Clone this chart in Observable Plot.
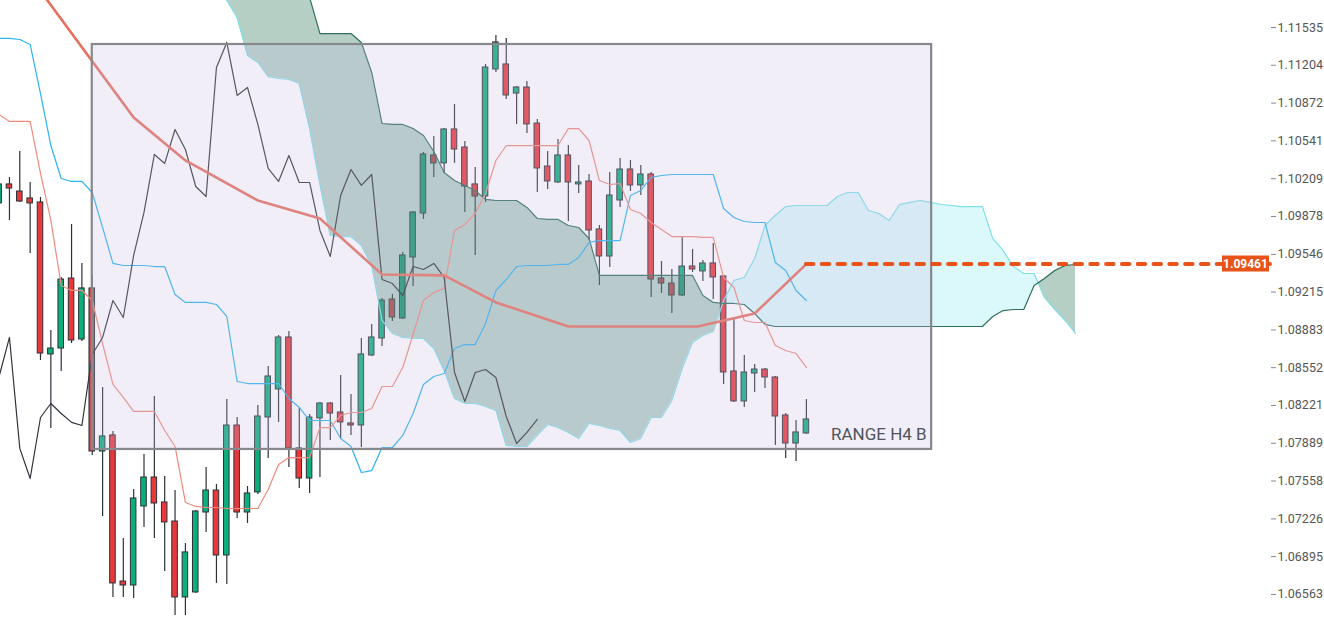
<!DOCTYPE html>
<html><head><meta charset="utf-8">
<script src="https://cdn.jsdelivr.net/npm/d3@7"></script>
<script src="https://cdn.jsdelivr.net/npm/@observablehq/plot@0.6"></script>
<style>
html,body{margin:0;padding:0;background:#fff;overflow:hidden;}
#chart svg{display:block}
</style></head><body><div id="chart"></div>
<script>
// ---- data (candles) ----
const opens = [1.09992,1.10159,1.10097,1.10036,1.10001,1.08668,1.08720,1.09334,1.08799,1.09247,
1.07817,1.07958,1.06677,1.06642,1.07335,1.07589,1.07370,1.07203,1.06537,1.06581,
1.07282,1.07475,1.06905,1.08045,1.07282,1.07458,1.08115,1.08361,1.08817,1.07844,
1.07580,1.08107,1.08238,1.08159,1.08063,1.08045,1.08659,1.08808,1.09150,1.08983,
1.09518,1.09904,1.10413,1.10343,1.10641,1.10483,1.10159,1.10053,1.11167,1.11211,
1.10956,1.11009,1.10693,1.10316,1.10176,1.10413,1.10159,1.10185,1.09764,1.09527,
1.10018,1.10290,1.10150,1.10246,1.09334,1.09290,1.09185,1.09439,1.09396,1.09466,
1.09352,1.08519,1.08256,1.08501,1.08536,1.08466,1.08133,1.07887,1.07975];
const highs = [1.10176,1.10220,1.10448,1.10176,1.10045,1.08878,1.09343,1.09808,1.09466,1.09361,
1.08378,1.07993,1.07054,1.07484,1.07791,1.08300,1.07598,1.07475,1.07010,1.07300,
1.07677,1.07528,1.08273,1.08115,1.07510,1.08221,1.08562,1.08834,1.08869,1.08194,
1.08142,1.08247,1.08247,1.08484,1.08317,1.08808,1.08931,1.09159,1.09194,1.09562,
1.09922,1.10439,1.10579,1.10650,1.10860,1.10536,1.10308,1.11211,1.11465,1.11439,
1.11018,1.11062,1.10728,1.10448,1.10553,1.10500,1.10325,1.10246,1.09799,1.10264,
1.10387,1.10369,1.10325,1.10264,1.09483,1.09413,1.09694,1.09589,1.09492,1.09641,
1.09361,1.08983,1.08659,1.08580,1.08545,1.08475,1.08150,1.08089,1.08273];
const lows = [1.09974,1.09843,1.10001,1.09553,1.08615,1.08019,1.08519,1.08764,1.08782,1.07782,
1.07247,1.06537,1.06537,1.06528,1.07151,1.07054,1.06765,1.06379,1.06379,1.06572,
1.07107,1.06660,1.06651,1.07230,1.07186,1.07440,1.07756,1.08072,1.07677,1.07493,
1.07449,1.07589,1.07914,1.07922,1.07958,1.07852,1.08650,1.08738,1.08957,1.08975,
1.09264,1.09852,1.10220,1.10255,1.10343,1.09913,1.09536,1.10001,1.11141,1.10904,
1.10685,1.10606,1.10088,1.10115,1.10167,1.09834,1.10080,1.09667,1.09273,1.09431,
1.09957,1.10097,1.10062,1.09168,1.09203,1.09027,1.09176,1.09387,1.09308,1.09150,
1.08405,1.08247,1.08203,1.08335,1.08370,1.07870,1.07756,1.07730,1.07966];
const closes = [1.10159,1.10123,1.10009,1.09992,1.08676,1.08720,1.09325,1.08790,1.09247,1.07817,
1.07949,1.06660,1.06642,1.07405,1.07589,1.07361,1.07195,1.06537,1.06932,1.07291,
1.07475,1.06905,1.08045,1.07282,1.07449,1.08124,1.08475,1.08817,1.07844,1.07580,
1.08115,1.08238,1.08150,1.08072,1.08045,1.08668,1.08817,1.09141,1.08992,1.09536,
1.09913,1.10422,1.10343,1.10641,1.10465,1.10141,1.10053,1.11184,1.11404,1.10939,
1.11009,1.10685,1.10299,1.10185,1.10413,1.10176,1.10176,1.09755,1.09527,1.10062,
1.10290,1.10150,1.10246,1.09325,1.09290,1.09185,1.09439,1.09413,1.09466,1.09343,
1.08510,1.08256,1.08510,1.08536,1.08466,1.08124,1.07887,1.07984,1.08098];

// blue line (Kijun-sen)
const kijun = [1.11439,1.11439,1.11430,1.11386,1.10956,1.10500,1.10211,1.10185,1.10185,1.10088,
1.09781,1.09466,1.09448,1.09448,1.09448,1.09439,1.09439,1.09194,1.09124,1.09124,
1.09124,1.09106,1.09001,1.08431,1.08413,1.08413,1.08413,1.08413,1.08282,1.08203,
1.08089,1.08089,1.08089,1.07931,1.07861,1.07633,1.07650,1.07852,1.07852,1.07958,
1.08150,1.08405,1.08475,1.08501,1.08720,1.08755,1.08755,1.08939,1.09229,1.09325,
1.09439,1.09448,1.09448,1.09448,1.09457,1.09457,1.09518,1.09650,1.09667,1.09667,
1.09667,1.10062,1.10106,1.10220,1.10237,1.10246,1.10246,1.10246,1.10246,1.10246,
1.09948,1.09869,1.09834,1.09825,1.09825,1.09474,1.09404,1.09229,1.09141];
// thin salmon line (Tenkan-sen)
const tenkan = [1.10772,1.10711,1.10711,1.10711,1.10255,1.09843,1.09273,1.09229,1.09229,1.09141,
1.08764,1.08405,1.08291,1.08168,1.08168,1.08168,1.08001,1.07861,1.07370,1.07335,
1.07326,1.07326,1.07317,1.07317,1.07317,1.07317,1.07484,1.07703,1.07764,1.07764,
1.07764,1.08027,1.08027,1.08133,1.08159,1.08159,1.08194,1.08387,1.08387,1.08554,
1.08843,1.09141,1.09211,1.09247,1.09755,1.09808,1.09904,1.10080,1.10369,1.10500,
1.10500,1.10500,1.10500,1.10500,1.10500,1.10649,1.10649,1.10544,1.10193,1.10158,
1.10167,1.09939,1.09904,1.09825,1.09764,1.09702,1.09702,1.09702,1.09694,1.09694,
1.09343,1.09255,1.08966,1.08948,1.08948,1.08747,1.08703,1.08676,1.08554];

// Ichimoku cloud, Senkou spans from bar 21 to bar 104 (26 bars ahead)
const senkouStart = 21;
const senkouA = [1.11903,1.11772,1.11623,1.11290,1.11228,1.11105,1.11088,1.11079,1.11044,1.10649,
1.10158,1.09711,1.09702,1.09702,1.09623,1.09448,1.08966,1.08852,1.08817,1.08808,
1.08808,1.08720,1.08527,1.08282,1.08238,1.08238,1.08212,1.08177,1.07870,1.07861,
1.07861,1.07958,1.08054,1.08027,1.07984,1.07931,1.08063,1.08045,1.08019,1.08001,
1.07896,1.07931,1.08115,1.08115,1.08264,1.08545,1.08773,1.08834,1.08869,1.09141,
1.09317,1.09343,1.09509,1.09799,1.09886,1.09965,1.09974,1.09974,1.09974,1.09974,
1.10053,1.10088,1.10088,1.09930,1.09904,1.09843,1.09983,1.10001,1.10018,1.10001,
1.09983,1.09974,1.09965,1.09965,1.09965,1.09685,1.09580,1.09439,1.09378,1.09378,
1.09168,1.09062,1.08966,1.08852];
const senkouB = [1.13263,1.13087,1.12912,1.12754,1.12605,1.12473,1.12342,1.12210,1.12087,1.11798,
1.11482,1.11482,1.11482,1.11482,1.11404,1.11141,1.10693,1.10685,1.10685,1.10649,
1.10588,1.10448,1.10264,1.10193,1.10150,1.10106,1.10027,1.10018,1.10018,1.10018,
1.09957,1.09860,1.09852,1.09852,1.09799,1.09781,1.09685,1.09361,1.09361,1.09361,
1.09361,1.09361,1.09361,1.09361,1.09361,1.09361,1.09361,1.09185,1.09124,1.09115,
1.09115,1.09106,1.09027,1.08931,1.08913,1.08913,1.08913,1.08913,1.08913,1.08913,
1.08913,1.08913,1.08913,1.08913,1.08913,1.08913,1.08913,1.08913,1.08913,1.08913,
1.08913,1.08913,1.08913,1.08913,1.08913,1.09001,1.09053,1.09062,1.09062,1.09273,
1.09334,1.09404,1.09448,1.09457];

// higher-timeframe line (bar index, price)
const htfIdx = [4, 13, 18, 25, 31, 37, 43, 48, 55, 67.5, 73, 78];
const htfVal = [1.11855, 1.10746, 1.10369, 1.10018, 1.09860, 1.09369, 1.09361, 1.09124, 1.08913, 1.08913, 1.09027, 1.09461];

const lastPrice = 1.09461;
const lastPriceLabel = "1.09461";
const chikouShift = 26;

const rangeBox = [{x1: 9.0, x2: 90.1, top: 1.11386, bottom: 1.07835, label: "RANGE H4 B"}];

const yTicks = [1.11535,1.11204,1.10872,1.10541,1.10209,1.09878,1.09546,1.09215,
1.08883,1.08552,1.08221,1.07889,1.07558,1.07226,1.06895,1.06563];

// ---- build tables ----
const candles = opens.map((o, i) => ({i, o, h: highs[i], l: lows[i], c: closes[i], up: closes[i] >= o}));
const kijunData = kijun.map((v, i) => ({i, v}));
const tenkanData = tenkan.map((v, i) => ({i, v}));
const chikouData = closes.slice(chikouShift).map((v, k) => ({i: k, v}));
const htfData = htfIdx.map((i, k) => ({i, v: htfVal[k]}));
const cloud = senkouA.map((a, k) => ({i: senkouStart + k, a, b: senkouB[k]}));

// split the cloud into bullish / bearish pieces at the crossings
const segs = [];
let cur = null;
for (let k = 0; k < cloud.length; k++) {
  const p = cloud[k];
  const bull = p.a >= p.b;
  if (!cur) { cur = {bull, pts: [p]}; segs.push(cur); continue; }
  if (bull !== cur.bull) {
    const q = cloud[k - 1];
    const d1 = q.a - q.b, d2 = p.a - p.b;
    const t = d1 / (d1 - d2);
    const cy = q.a + t * (p.a - q.a);
    const c = {i: q.i + t * (p.i - q.i), a: cy, b: cy};
    cur.pts.push(c);
    cur = {bull, pts: [c, p]};
    segs.push(cur);
  } else cur.pts.push(p);
}
const areaData = segs.flatMap((s, n) => s.pts.map(p => ({...p, seg: n, bull: s.bull})));

const UP = "#0caf7b", DOWN = "#e8383a", EDGE = "#2c3138";

const chart = Plot.plot({
  width: 1324,
  height: 627,
  marginTop: 0, marginBottom: 0, marginLeft: 0, marginRight: 54,
  style: {fontFamily: "Roboto, 'Noto Sans', sans-serif", fontSize: "12.5px", background: "#ffffff", color: "#555"},
  x: {domain: [0.135, 122.84], axis: null},
  y: {domain: [1.062736, 1.117718], axis: null, label: null},
  marks: [
    // candles
    Plot.ruleX(candles, {x: "i", y1: "l", y2: "h", stroke: EDGE, strokeWidth: 1.2, clip: true}),
    Plot.rect(candles, {x1: d => d.i - 0.5, x2: d => d.i + 0.5, y1: "o", y2: "c",
      insetLeft: 2.4, insetRight: 2.4, fill: d => d.up ? UP : DOWN, stroke: EDGE, strokeWidth: 1, clip: true}),
    // cloud
    Plot.areaY(areaData.filter(d => !d.bull), {x: "i", y1: "a", y2: "b", z: "seg", fill: "#1e6e50", fillOpacity: 0.33, clip: true}),
    Plot.areaY(areaData.filter(d => d.bull), {x: "i", y1: "a", y2: "b", z: "seg", fill: "#64e4e8", fillOpacity: 0.23, clip: true}),
    Plot.line(cloud, {x: "i", y: "a", stroke: "#7fe0ea", strokeWidth: 1.2, clip: true}),
    Plot.line(cloud, {x: "i", y: "b", stroke: "#2f6f5c", strokeWidth: 1.2, clip: true}),
    // indicator lines
    Plot.line(kijunData, {x: "i", y: "v", stroke: "#2bb4f2", strokeWidth: 1.2, clip: true}),
    Plot.line(tenkanData, {x: "i", y: "v", stroke: "#f08a7c", strokeWidth: 1.2, clip: true}),
    Plot.line(chikouData, {x: "i", y: "v", stroke: "#30353b", strokeWidth: 1.2, clip: true}),
    Plot.line(htfData, {x: "i", y: "v", stroke: "#e6705e", strokeWidth: 2.6, clip: true}),
    // range box
    Plot.rect(rangeBox, {x1: "x1", x2: "x2", y1: "bottom", y2: "top", fill: "#c8bce4", fillOpacity: 0.25,
      stroke: "#86888d", strokeWidth: 2.2}),
    Plot.text(rangeBox, {x: "x2", y: "bottom", text: "label", textAnchor: "end", lineAnchor: "bottom",
      dx: -5, dy: -9, fontSize: 17, fill: "#4f535b"}),
    // last price dashed line
    Plot.ruleY([lastPrice], {y: d => d, x1: htfIdx[htfIdx.length - 1], x2: 122.84, stroke: "#e8531a",
      strokeWidth: 4, strokeDasharray: "7.5,8.3", strokeLinecap: "round"}),
    // right axis
    Plot.axisY(yTicks, {anchor: "right", tickSize: 5, tickPadding: 2, tickFormat: d => d.toFixed(5),
      fontSize: 12.5, fill: "#555", stroke: "#888", label: null})
  ]
});

document.getElementById("chart").appendChild(chart);

// last-price tag on the right edge, positioned with the plot's own scales
const ys = chart.scale("y"), xs = chart.scale("x");
const yy = ys.apply(lastPrice);
const xr = xs.range[1];
const svg = d3.select(chart);
svg.append("rect").attr("x", xr - 48).attr("y", yy - 8).attr("width", 47).attr("height", 16).attr("fill", "#e8531a");
svg.append("text").attr("x", xr - 24.5).attr("y", yy).attr("dy", "0.35em").attr("text-anchor", "middle")
  .attr("fill", "#fff").attr("font-weight", "bold").attr("font-size", 12)
  .attr("font-family", "Roboto, 'Noto Sans', sans-serif").text(lastPriceLabel);
</script>
</body></html>
